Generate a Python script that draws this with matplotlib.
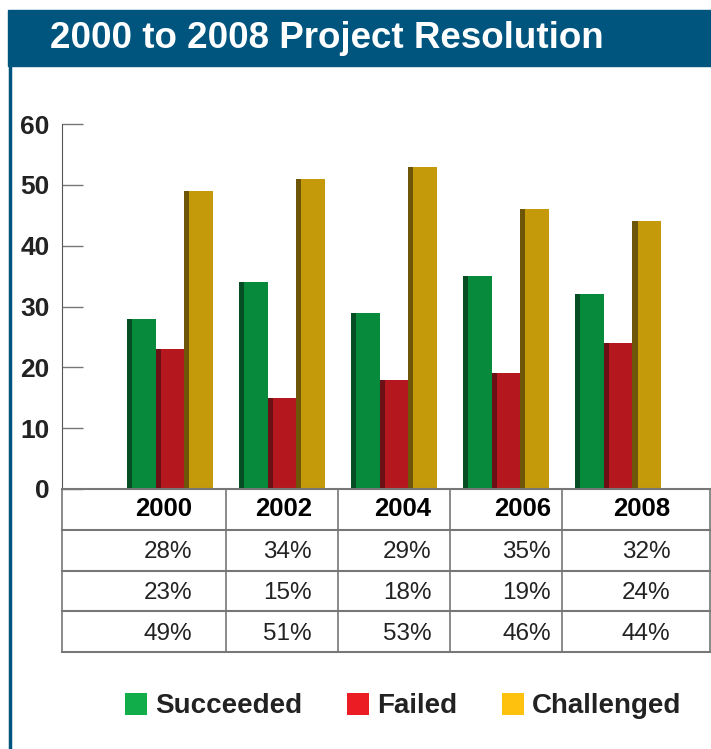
import matplotlib.pyplot as plt
from matplotlib.patches import Rectangle, Patch
from matplotlib.lines import Line2D

years = ["2000", "2002", "2004", "2006", "2008"]
succeeded = [28, 34, 29, 35, 32]
failed = [23, 15, 18, 19, 24]
challenged = [49, 51, 53, 46, 44]
series_names = ["Succeeded", "Failed", "Challenged"]

bar_colors = ["#078a3c", "#b5171f", "#c49a0a"]
dark_colors = ["#054d22", "#6b1014", "#6e5609"]
legend_colors = ["#10ad4a", "#ec1c24", "#fec10e"]
band_color = "#00557f"

plt.rcParams['font.family'] = ['Liberation Sans', 'DejaVu Sans']

W, H = 711, 749
fig = plt.figure(figsize=(W / 100, H / 100), dpi=100)

# header band and left border
fig.patches.append(Rectangle((8 / W, 1 - 66 / H), 1 - 8 / W, 56 / H,
                             transform=fig.transFigure, color=band_color, zorder=0))
fig.lines.append(Line2D([9.5 / W, 9.5 / W], [0, 1 - 66 / H], transform=fig.transFigure,
                        color=band_color, lw=2.5))
fig.text(50 / W, 1 - 39 / H, "2000 to 2008 Project Resolution", color="white",
         fontsize=26.5, fontweight="bold", va="center", ha="left")

# bar chart
ax = fig.add_axes([62 / W, 1 - 489 / H, 648 / W, 365 / H])
xs = range(len(years))
w = 0.256
strip = 0.045
for k, vals in enumerate([succeeded, failed, challenged]):
    off = (k - 1) * w
    pos = [x + off for x in xs]
    ax.bar(pos, vals, width=w, color=bar_colors[k], zorder=2)
    ax.bar([p - w / 2 for p in pos], vals, width=strip, align="edge",
           color=dark_colors[k], zorder=3)

ax.set_xlim(-0.964, 4.82)
ax.set_ylim(0, 60)
ax.set_xticks([])
ax.set_yticks(range(0, 61, 10))
ax.tick_params(axis="y", direction="in", length=15, width=1, color="#777777",
               labelsize=19, pad=9)
for lab in ax.get_yticklabels():
    lab.set_fontweight("bold")
    lab.set_color("#222222")
for s in ["top", "right", "bottom"]:
    ax.spines[s].set_visible(False)
ax.spines["left"].set_color("#555555")

# data table under the chart
tab = fig.add_axes([62 / W, 1 - 652 / H, 648 / W, 163 / H])
tab.set_xlim(ax.get_xlim())
tab.set_ylim(4, 0)
tab.axis("off")
x0, x1 = ax.get_xlim()
for r in range(5):
    tab.plot([x0, x1], [r, r], color="#777777", lw=1.5, clip_on=False)
for c in [x0, 0.5, 1.5, 2.5, 3.5, x1]:
    tab.plot([c, c], [0, 4], color="#777777", lw=1.2, clip_on=False)

text_x = [0.2 + 1.067 * i for i in range(len(years))]
rows = [succeeded, failed, challenged]
for i, yr in enumerate(years):
    tab.text(text_x[i], 0.5, yr, ha="right", va="center", fontsize=18.5,
             fontweight="bold", color="black")
    for r, vals in enumerate(rows):
        tab.text(text_x[i], r + 1.55, f"{vals[i]}%", ha="right", va="center",
                 fontsize=17.5, color="#222222")

# legend
handles = [Patch(facecolor=c, edgecolor="none") for c in legend_colors]
fig.legend(handles, series_names, loc="center", bbox_to_anchor=(0.567, 1 - 706 / H),
           ncol=3, frameon=False, prop={"size": 20, "weight": "bold"},
           handlelength=0.8, handleheight=0.85, handletextpad=0.3,
           columnspacing=1.6, labelcolor="#222222")

fig.savefig("out.png", dpi=100)
